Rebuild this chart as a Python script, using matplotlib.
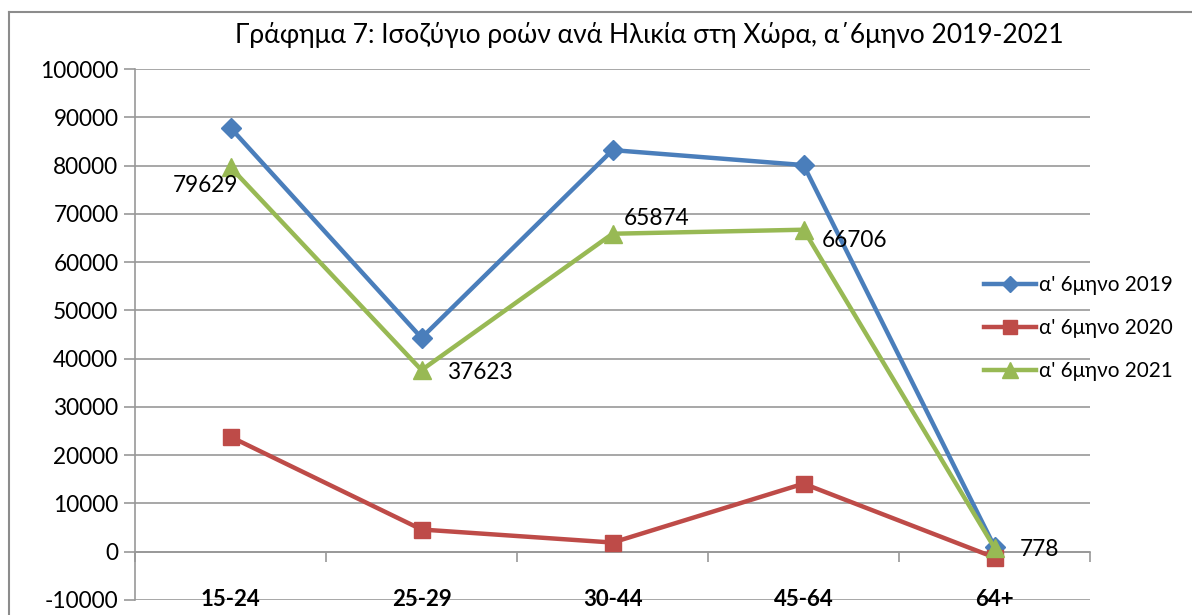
import matplotlib.pyplot as plt
from matplotlib.lines import Line2D

plt.rcParams['font.family'] = ['Lato', 'DejaVu Sans']
plt.rcParams['axes.unicode_minus'] = False

# age groups and net flows per half-year
categories = ["15-24", "25-29", "30-44", "45-64", "64+"]
h1_2019 = [87800, 44300, 83200, 80100, 1000]
h1_2020 = [23800, 4600, 1900, 14100, -1200]
h1_2021 = [79629, 37623, 65874, 66706, 778]
series_names = ["α' 6μηνο 2019", "α' 6μηνο 2020", "α' 6μηνο 2021"]

BLUE = "#4a7ebb"
RED = "#be4b48"
GREEN = "#98b954"
GRID = "#989898"

fig = plt.figure(figsize=(11.92, 6.15), dpi=100)
ax = fig.add_axes([0.1133, 0.0244, 0.8012, 0.8634])

x = list(range(len(categories)))
ax.plot(x, h1_2019, color=BLUE, lw=3.2, marker="D", ms=10, label=series_names[0], zorder=3)
ax.plot(x, h1_2020, color=RED, lw=3.2, marker="s", ms=12, label=series_names[1], zorder=3)
ax.plot(x, h1_2021, color=GREEN, lw=3.2, marker="^", ms=13, label=series_names[2], zorder=4)

# data labels on the 2021 series: (dx, dy) in points, ha
label_offsets = [(-18, -13, "center"), (18, -2, "left"), (8, 11, "left"), (13, -8, "left"), (18, -1, "left")]
for xi, v, (dx, dy, ha) in zip(x, h1_2021, label_offsets):
    ax.annotate(str(v), (xi, v), textcoords="offset points", xytext=(dx, dy),
                ha=ha, va="center", fontsize=16.3, color="black", zorder=5)

ax.set_xlim(-0.5, 4.5)
ax.set_ylim(-10000, 100000)
ax.set_yticks(range(-10000, 100001, 10000))
ax.yaxis.grid(True, color=GRID, lw=1.2)
ax.set_axisbelow(True)
ax.tick_params(axis="y", labelsize=16.3, length=8, color=GRID, width=1.2, pad=4)

# x axis sits on zero with ticks between categories
for s in ["top", "right"]:
    ax.spines[s].set_visible(False)
ax.spines["left"].set_color(GRID)
ax.spines["left"].set_linewidth(1.2)
ax.spines["bottom"].set_position(("data", 0))
ax.spines["bottom"].set_color(GRID)
ax.spines["bottom"].set_linewidth(1.2)
ax.set_xticks([i - 0.5 for i in range(len(categories) + 1)])
ax.set_xticklabels([])
ax.tick_params(axis="x", length=7, color=GRID, width=1.2, direction="out")
for xi, c in zip(x, categories):
    ax.text(xi, -10000, c, ha="center", va="center", fontsize=16, fontweight="bold")

fig.text(0.545, 0.943, "Γράφημα 7: Ισοζύγιο ροών ανά Ηλικία στη Χώρα, α΄6μηνο 2019-2021",
         ha="center", va="center", fontsize=19)

leg = fig.legend(loc="upper left", bbox_to_anchor=(0.81, 0.583), frameon=False,
                 fontsize=14.9, handlelength=2.5, labelspacing=1.12, handletextpad=0.15,
                 markerscale=0.85)

# chart area border (partially visible)
fig.add_artist(Line2D([9 / 1192, 9 / 1192], [0, 1 - 12 / 615], color="#8c8c8c", lw=1.5))
fig.add_artist(Line2D([9 / 1192, 1], [1 - 12 / 615, 1 - 12 / 615], color="#8c8c8c", lw=1.5))

fig.savefig("out.png", dpi=100)
